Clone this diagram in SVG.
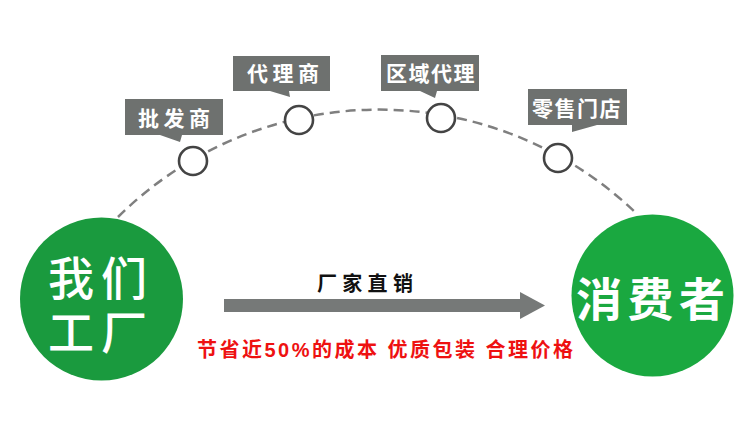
<svg xmlns="http://www.w3.org/2000/svg" width="750" height="448" viewBox="0 0 750 448">
  <defs>
    <style>
      .bubble { fill: #6e716f; }
      .btxt { fill: #ffffff; font-family: "Liberation Sans", "Noto Sans CJK SC", sans-serif; font-weight: 700; font-size: 21px; }
      .dot { fill: #ffffff; stroke: #444444; stroke-width: 2.6; }
      .big { fill: #ffffff; font-family: "Liberation Sans", "Noto Sans CJK SC", sans-serif; font-size: 46px; }
      .arc { fill: none; stroke: #7f7f7f; stroke-width: 2.5; stroke-dasharray: 10 6; }
    </style>
    <marker id="head" markerUnits="userSpaceOnUse" markerWidth="25" markerHeight="27" viewBox="0 0 25 27" refX="0" refY="13.5" orient="auto">
      <path d="M0,0 L25,13.5 L0,27 Z" fill="#767978"/>
    </marker>
  </defs>
  <rect width="750" height="448" fill="#ffffff"/>

  <g id="connectors">
    <path class="arc" d="M 118 217 A 371 371 0 0 1 636 213"/>
    <line x1="224" y1="305.5" x2="520" y2="305.5" stroke="#767978" stroke-width="13" marker-end="url(#head)"/>
  </g>

  <g id="factory">
    <circle cx="101.5" cy="299" r="81.5" fill="#1a9a3e"/>
    <text class="big" font-weight="500" letter-spacing="7"><tspan x="48" y="295">我们</tspan><tspan x="48" y="349">工厂</tspan></text>
  </g>

  <g id="consumer">
    <circle cx="652.5" cy="295.5" r="81" fill="#1aa840"/>
    <text class="big" font-weight="700" x="576" y="316" letter-spacing="5.5">消费者</text>
  </g>

  <g id="wholesaler">
    <path class="bubble" d="M125,99 H223 V135 H182 L180,142 L160,135 H125 Z"/>
    <text class="btxt" x="138" y="126" letter-spacing="4.5">批发商</text>
    <circle class="dot" cx="193" cy="161" r="14"/>
  </g>

  <g id="agent">
    <path class="bubble" d="M233,56 H330 V91 H289 L290,97 L270,91 H233 Z"/>
    <text class="btxt" x="247" y="81" letter-spacing="4.5">代理商</text>
    <circle class="dot" cx="299" cy="120" r="14"/>
  </g>

  <g id="regional">
    <path class="bubble" d="M381,55 H479 V91 H437 L435,98 L420,91 H381 Z"/>
    <text class="btxt" x="386" y="81" letter-spacing="1.5">区域代理</text>
    <circle class="dot" cx="441" cy="118" r="14"/>
  </g>

  <g id="retail">
    <path class="bubble" d="M528,89 H627 V125 H597 L572,132 L572,125 H528 Z"/>
    <text class="btxt" x="532" y="116" letter-spacing="1.5">零售门店</text>
    <circle class="dot" cx="558" cy="158" r="14"/>
  </g>

  <g id="labels">
    <text x="317" y="291" font-family="Liberation Sans, Noto Sans CJK SC, sans-serif" font-weight="700" font-size="20" letter-spacing="5.3" fill="#111111">厂家直销</text>
    <text x="197" y="357" font-family="Liberation Sans, Noto Sans CJK SC, sans-serif" font-weight="700" font-size="20" fill="#ee1111" textLength="376" lengthAdjust="spacing">节省近50%的成本 优质包装 合理价格</text>
  </g>
</svg>
